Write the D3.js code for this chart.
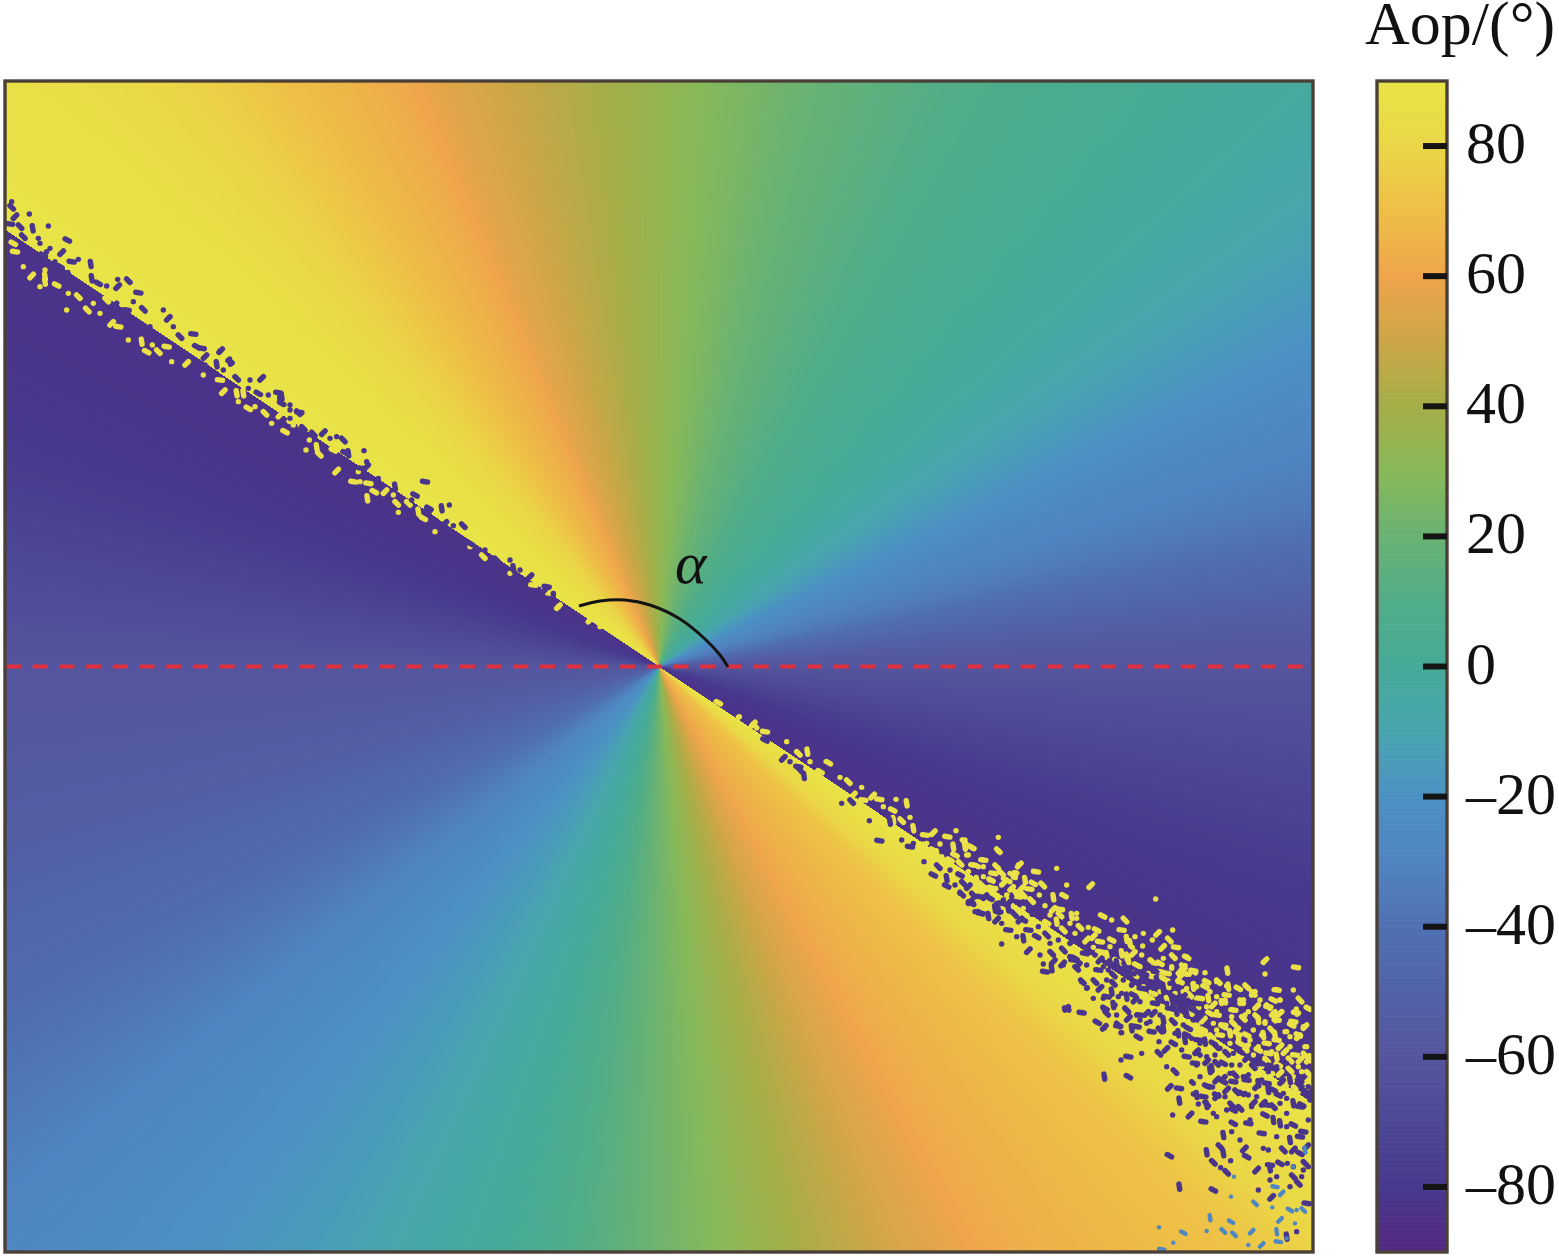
<!DOCTYPE html>
<html><head><meta charset="utf-8">
<script src="https://cdn.jsdelivr.net/npm/d3@7"></script>
<style>
html,body{margin:0;padding:0;background:#fff;width:1559px;height:1257px;overflow:hidden}
#wrap{position:relative;width:1559px;height:1257px}
canvas{position:absolute;filter:blur(0.5px)}
svg{position:absolute;left:0;top:0}
text{font-family:"Liberation Serif",serif;fill:#111}
</style></head><body><div id="wrap"></div>
<script>
// Colour bar: Aop value and the colour read at that value
const cbValues=[90,80,70,60,50,40,30,20,10,0,-10,-20,-30,-40,-50,-60,-70,-80,-90];
const cbColors=["#e8e446","#ebd646","#eebe46","#efa54b","#cca646","#a5ae48","#88b958","#69b273","#50ad88","#46aa98","#48a5ae","#4b91c4","#5084c2","#4f70b2","#5262a8","#54559e","#4c4796","#47388e","#552882"];
const tickValues=[80,60,40,20,0,-20,-40,-60,-80];
const tickLabels=["80","60","40","20","0","\u201320","\u201340","\u201360","\u201380"];
// Angle of polarisation read around the centre: azimuth (deg, counter-clockwise from +x) -> Aop
const azimuths=[0,4,9,14,22,32,42,60,76,86,100,110,114,122,128,138,146.2,146.21,160,170,180,195,207,222,240,255,270,283,292,300,315,320,326.2,326.21,340,350,360];
const aopAtAzimuth=[-60,-55,-45,-35,-26,-13,-3,8,20,30,45,56,62,70,78,87,90,-84,-80,-70,-60,-53,-43,-27,-14,0,22,40,53,62,72,82,90,-84,-80,-70,-60];
// Arc marking alpha, in picture pixels
const alphaArc=[[579,606],[600,601],[625,600],[650,605],[680,619],[705,639],[720,655],[728,667]];
const darkNW=[35,395,35,412,88,432,45,440,30,462,145,468,98,475,202,510,115,505,70,500,150,535,185,548,215,575,235,568,272,582,130,555,165,575,385,632,353,628,353,650,415,668,320,648,275,625,295,640,400,695,430,718,490,720,505,745,580,792,660,843,690,875,590,830,520,770,540,800,450,770,345,705,380,720,240,640,205,615,180,590,120,520,60,470,140,545];
const lightNW=[200,720,262,720,120,650,95,618,45,545,70,590,135,620,170,645,205,670,235,680,300,730,335,760,355,770,385,810,425,815,440,845,457,825,475,845,515,875,560,880,500,830,135,600,135,635,40,520,280,700,320,690];
const darkGap=[62,62,5,55,15,105,50,103,90,95,70,120,110,145,150,150,185,145,235,188,205,195,240,210,175,190,145,175,295,248,270,225,15,80];
const lightGap=[10,135,70,185,60,150,115,215,110,190,145,235,165,230,195,250,215,280,240,255,275,275,300,285,130,190];
const darkN=[435,365,508,435,485,445,447,445,252,272,190,240,170,230,130,218,58,157,30,150,205,280,195,278,150,235,100,222,260,305,260,320,245,325,295,355,345,380,405,405,395,420,550,497,520,497,495,490,440,455,690,600,700,625,570,550,615,570,650,600,720,630,750,650,800,680,820,700,5,110,5,130,30,175,70,205];
const lightN=[15,215,78,270,118,283,88,240,170,333,220,365,240,365,262,415,283,395,355,457,350,430,340,405,315,395,265,370,465,515,415,455,430,475,570,560,610,590,690,640,835,740,760,675,40,195,110,262,160,270,235,335,385,430];
const darkC=[40,195,15,180];
const lightC=[55,230,150,270,30,190,180,290,10,165,535,518,598,560,645,588];
const darkSE1=[478,422,365,310,252,228,640,525,448,362,395,305,210,185,190,175,235,200,612,485,680,535,680,558,705,555,725,582,760,610,750,605,782,640,805,650,835,630,810,595,850,600,880,640,890,650,830,660,570,440,545,420,510,365,135,120,160,112,240,210,580,430,745,560,780,590,830,610,865,625,720,525,690,510,655,500];
const lightSE1=[55,52,100,72,135,95,200,125,262,155,325,188,360,232,385,245,425,262,458,288,478,298,528,298,560,310,518,330,570,352,545,362,708,392,640,398,682,410,735,420,735,440,755,442,835,412,835,452,895,495,885,525,790,480,745,465,700,440,705,465,760,495,845,520,810,540,855,545,615,405,660,432,580,385,300,215,270,185,235,160,345,262,400,285,430,300,490,320,520,360,640,450,665,470,720,490,790,530,875,565,895,590,620,430,650,460,690,480,775,500,830,500,870,520,775,555,820,565,860,585,610,440];
const darkSE2=[125,312,205,332,145,270,125,250,85,228,60,218,240,345,275,340,250,372,280,365,255,395,310,375,275,385,345,355,365,425,405,425,380,445,320,505,365,518,430,505,460,495,412,547,432,565,475,555,485,578,505,535,440,470,475,470,500,470,520,465,540,485,500,510,530,525,560,520,575,575,610,575,655,580,680,585,600,525,640,545,670,555,720,530,585,490,620,490,650,515,700,510,440,420,460,405,490,420,520,430,545,445,580,445,610,450,480,385,380,375,350,385,430,380,180,240,205,270,170,290,105,205,35,190,0,160,40,165,90,175,145,190,115,215,45,215,190,295,230,290,270,310,310,330,330,350,420,360,515,400,560,405,590,420,640,470,680,495,10,130,25,185,75,170,125,190,155,170,215,215,190,240,235,260,260,285,295,300,335,305,375,340,405,345,450,370,500,385,540,400,585,390,630,430,670,470,710,490,700,540,640,500,600,480,470,525,440,520,400,475,420,445,530,560,560,550,610,540];
const lightSE2=[35,22,115,33,12,5,68,60,178,75,228,95,290,85,165,105,93,120,130,115,248,135,320,135,392,137,208,147,238,165,280,172,312,167,587,177,215,182,255,197,280,208,300,208,350,220,335,228,428,228,455,240,495,240,638,270,593,280,485,270,525,290,500,297,455,300,577,300,628,300,548,318,608,322,648,322,517,322,485,340,680,352,610,355,577,365,635,380,670,382,700,392,680,402,625,430,660,425,680,445,690,465,545,345,520,340,600,395,565,400,290,245,260,248,330,250,360,262,385,262,400,290,420,305,400,322,440,345,470,362,190,205,170,160,125,135,185,145,40,75,20,45,50,120,95,145,145,170,190,165,70,80,20,100,100,100,150,125,195,120,220,130,270,225,310,270,345,280,380,300,420,335,450,320,500,350,530,375,590,370,640,350,700,430,660,395,620,400,550,280,510,310,410,270,350,235,300,225];
const darkSE3=[20,177,67,187,67,95,82,113,8,42,40,30,130,145,155,125,135,175,165,165,200,180,112,217,133,232,175,228,183,248,215,235,235,262,245,310,297,310,297,275,318,298,205,320,183,330,133,380,205,380,320,350,345,365,395,395,328,412,357,415,400,432,358,452,440,408,415,462,440,462,338,495,390,495,430,515,470,500,490,555,520,520,570,510,480,590,540,570,553,597,605,550,610,595,440,607,328,617,512,632,460,637,482,653,590,660,630,645,682,640,358,710,460,720,595,720,500,667,650,680,700,600,730,545,745,510,660,520,615,495,575,470,540,475,500,480,470,440,430,440,650,560,690,570,720,610,730,660,715,700,690,710,635,742,740,760,710,845,680,860,520,480,460,490,300,240,240,210,280,190,330,175,345,250,375,270,385,235,420,280,470,290,520,310,560,325,600,340,650,350,690,390,730,420,750,450,470,340,510,370,560,380,620,400,670,430,700,460,545,430,590,440,640,470,680,490,500,420,380,320,410,345,450,360,490,395,540,345,580,350,625,365,665,395,720,470,625,345,630,655,700,525,725,680,735,640,30,20,55,45,115,60,145,60,170,40,195,70,215,105,160,100,185,130,225,150,240,195,270,215,310,235,340,280,365,300,415,310,440,320,470,390,520,395,555,430,595,400,640,420,680,340,720,390,745,410,610,460,565,520,515,545,490,610,560,620,625,600,670,600,700,650,740,590,720,560,680,530,640,510,660,640,630,690,700,680,745,650];
const lightSE3=[380,20,615,32,708,52,615,72,502,62,400,65,435,68,370,50,335,55,365,75,380,72,470,95,505,110,535,115,450,125,580,130,650,118,490,155,420,145,355,95,325,105,300,40,270,30,545,155,660,150,590,170,625,170,665,185,710,185,745,175,520,180,550,205,615,220,735,230,650,210,680,245,645,255,715,255,740,290,735,315,580,240,530,240,490,225,430,205,395,185,355,195,400,240,455,260,510,280,560,290,620,280,690,290,650,320,595,300,715,350,745,370,700,380,660,370,470,195,440,170,320,150,280,130,250,110,225,75,180,50,120,20,140,60,185,95,400,110,440,95,470,140,560,110,600,150,640,190,700,215,515,200,610,255,560,255,470,240,690,330,615,330,745,330,280,80,240,50,205,30,310,85,345,130,375,130,410,110,460,165,500,135,565,185,595,210,640,150,700,120,720,150,690,260,660,290,625,310,570,270,535,260,430,240,385,215,340,170,300,125,720,330,745,400,700,410,680,395];
const blueSE3=[513,740,585,760,637,772,665,730,645,710,522,680,450,803,513,815,297,832,522,853,565,885,605,885,655,875,680,865,650,845,690,780,710,780,730,780,705,820,660,810,305,898,700,650,735,600,370,848,440,843,490,843,340,878,575,845];
const lightCorner=[45,20,110,18,85,5,145,25,190,40,260,30,20,60,55,55,100,65,205,75,235,80,270,60,155,65,130,90,80,95,25,75,60,100,165,105,200,110,225,125,270,100,318,98,355,85,255,115,305,135,340,140,130,130,70,130,40,120,15,135,150,165,120,160,100,140,215,165,245,150,285,155,325,170,260,180,205,200,170,205,150,190,190,225,230,240,245,215,285,215,315,225,345,200,360,235,265,255,215,260,300,270,335,275,355,300,240,280,180,260,160,245,300,300,350,325,320,330,125,215,150,240,90,165];
const darkCorner=[20,215,25,180,5,175,45,185,70,190,90,205,110,220,75,225,50,245,15,250,30,290,65,265,100,250,125,255,135,285,160,290,100,295,60,320,10,310,20,345,80,345,105,350,140,335,175,345,200,320,170,300,215,300,235,330,265,345,290,355,125,375,150,385,190,370,230,375,270,370,50,375,335,375];
// Elongation directions seen in the speckles
const speckDirs=[[0,0],[1.8,1.8],[0,0],[1.8,-1.8],[2.6,0.4],[0,0],[0.4,2.6],[2.2,1.2]];

const W=1559,H=1257;
const plot={l:5,r:1313,t:81,b:1252}, cx=659, cy=666.5;
const bar={l:1377,r:1447,t:81,b:1252};

const colorOf=d3.scaleLinear().domain(cbValues).range(cbColors).interpolate(d3.interpolateRgb);
const aopOf=d3.scaleLinear().domain(azimuths).range(aopAtAzimuth);
const cbY=d3.scaleLinear().domain([90,-90]).range([bar.t,bar.b]);
const px=d3.scaleLinear().domain([plot.l,plot.r]).range([plot.l,plot.r]);
const py=d3.scaleLinear().domain([plot.t,plot.b]).range([plot.t,plot.b]);

// Field image
const wrap=d3.select("#wrap");
const cv=wrap.append("canvas").attr("width",plot.r-plot.l).attr("height",plot.b-plot.t)
  .style("left",plot.l+"px").style("top",plot.t+"px").node();
const ctx=cv.getContext("2d");
const img=ctx.createImageData(cv.width,cv.height);
const lut=d3.range(0,3601).map(i=>{const c=d3.rgb(colorOf(aopOf(i/10)));return [c.r,c.g,c.b];});
let k=0;
for(let j=0;j<cv.height;j++){for(let i=0;i<cv.width;i++){
  let a=Math.atan2(cy-(j+plot.t+.5),(i+plot.l+.5)-cx)*180/Math.PI; if(a<0)a+=360;
  const c=lut[Math.round(a*10)];
  img.data[k++]=c[0];img.data[k++]=c[1];img.data[k++]=c[2];img.data[k++]=255;
}}
ctx.putImageData(img,0,0);

const svg=wrap.append("svg").attr("width",W).attr("height",H);
const defs=svg.append("defs");
defs.append("filter").attr("id","soft").append("feGaussianBlur").attr("stdDeviation",0.4);
defs.append("clipPath").attr("id","plotClip").append("rect")
  .attr("x",plot.l).attr("y",plot.t).attr("width",plot.r-plot.l).attr("height",plot.b-plot.t);

// Speckles
function pairs(flat,ox,oy){const out=[];for(let i=0;i<flat.length;i+=2)out.push([ox+flat[i]/3,oy+flat[i+1]/3]);return out;}
const speckGroups=[
 {pts:[...pairs(lightNW,0,70),...pairs(lightGap,200,330),...pairs(lightN,280,360),...pairs(lightC,540,530),...pairs(lightSE1,720,700),...pairs(lightSE2,960,840),...pairs(lightSE3,1060,950),...pairs(lightCorner,1190,980)],v:88,w:5.4},
 {pts:[...pairs(darkNW,0,70),...pairs(darkGap,200,330),...pairs(darkN,280,360),...pairs(darkC,540,530),...pairs(darkSE1,720,700),...pairs(darkSE2,960,840),...pairs(darkSE3,1060,950),...pairs(darkCorner,1190,980)],v:-82,w:5.4},
 {pts:pairs(blueSE3,1060,950),v:-28,w:4.4}
];
const sg=svg.append("g").attr("clip-path","url(#plotClip)").append("g").attr("filter","url(#soft)");
speckGroups.forEach(g=>{
  sg.append("g").attr("stroke",colorOf(g.v)).attr("stroke-width",g.w).attr("stroke-linecap","round")
    .selectAll("line").data(g.pts).join("line")
    .attr("x1",(d,i)=>px(d[0]-speckDirs[i%8][0])).attr("y1",(d,i)=>py(d[1]-speckDirs[i%8][1]))
    .attr("x2",(d,i)=>px(d[0]+speckDirs[i%8][0])+0.01).attr("y2",(d,i)=>py(d[1]+speckDirs[i%8][1]));
});

// Dashed reference line
svg.append("line").attr("x1",plot.l+1).attr("x2",plot.r-2).attr("y1",cy).attr("y2",cy)
  .attr("stroke","#e0303e").attr("stroke-width",4.2).attr("stroke-dasharray","15 11.7");

// Alpha arc and label
svg.append("path").datum(alphaArc)
  .attr("d",d3.line().x(d=>px(d[0])).y(d=>py(d[1])).curve(d3.curveCatmullRom))
  .attr("fill","none").attr("stroke","#141414").attr("stroke-width",3);
svg.append("text").attr("x",675).attr("y",583).attr("font-size",60).attr("font-style","italic").text("\u03b1");

// Plot frame
const frameColor="#4a4038";
svg.append("rect").attr("x",plot.l).attr("y",plot.t).attr("width",plot.r-plot.l).attr("height",plot.b-plot.t)
  .attr("fill","none").attr("stroke",frameColor).attr("stroke-width",3.4);

// Colour bar
const steps=d3.range(90,-90,-0.25);
svg.append("g").selectAll("rect").data(steps).join("rect")
  .attr("x",bar.l).attr("width",bar.r-bar.l)
  .attr("y",d=>cbY(d)).attr("height",cbY(89)-cbY(89.25)+0.6)
  .attr("fill",d=>colorOf(d-0.125));
svg.append("rect").attr("x",bar.l).attr("y",bar.t).attr("width",bar.r-bar.l).attr("height",bar.b-bar.t)
  .attr("fill","none").attr("stroke",frameColor).attr("stroke-width",3.4);
const tk=svg.append("g").selectAll("g").data(tickValues).join("g")
  .attr("transform",d=>`translate(0,${cbY(d)})`);
tk.append("line").attr("x1",1423).attr("x2",bar.r).attr("stroke","#141414").attr("stroke-width",6);
tk.append("text").attr("x",1466).attr("y",17).attr("font-size",60).text((d,i)=>tickLabels[i]);
svg.append("text").attr("x",1365).attr("y",44).attr("font-size",62).text("Aop/(\u00b0)");
</script></body></html>
